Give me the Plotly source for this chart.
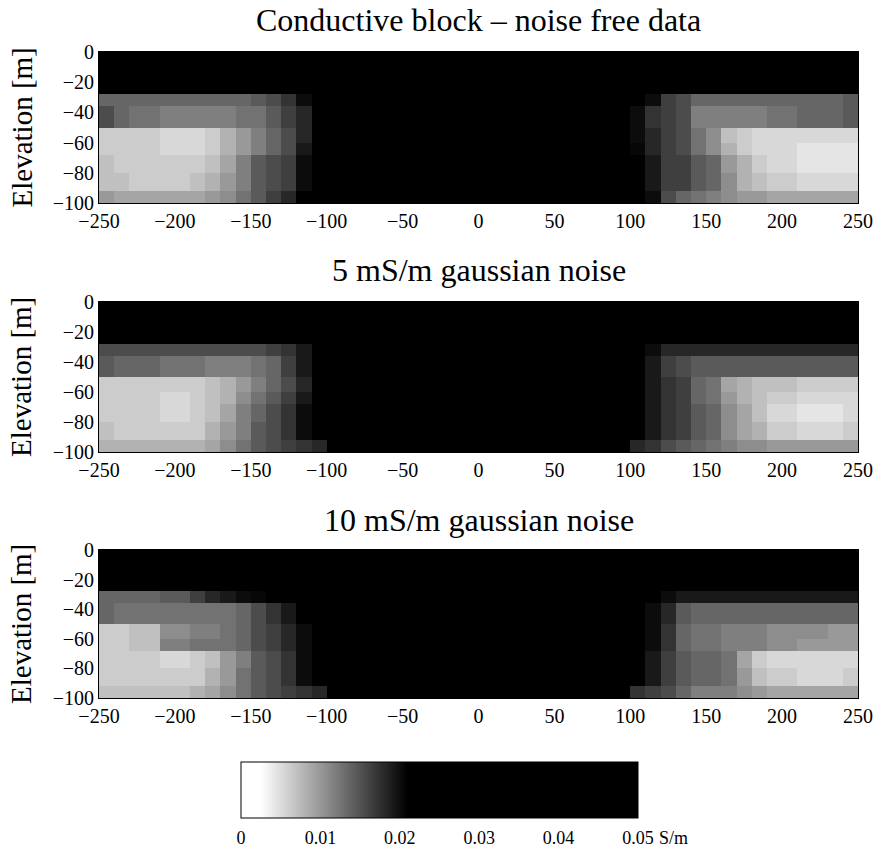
import plotly.graph_objects as go

# ---------------- data (conductivity in mS/m) ----------------
X_EDGES_LEFT = [-250, -240, -230, -210, -190, -180, -170, -160, -150, -140, -130, -120, -110, -100]
X_EDGES_RIGHT = [100, 110, 120, 130, 140, 150, 160, 170, 180, 190, 210, 230, 240, 250]
Y_EDGES = [0, -28, -36, -50, -60, -68, -80, -92, -100]   # top to bottom
BLOCK = 50.0  # conductive block / top layer, mS/m

TITLES = ["Conductive block \u2013 noise free data",
          "5 mS/m gaussian noise",
          "10 mS/m gaussian noise"]

X_TICKS = [-250, -200, -150, -100, -50, 0, 50, 100, 150, 200, 250]
Y_TICKS = [0, -20, -40, -60, -80, -100]
CB_TICKS = [0, 0.01, 0.02, 0.03, 0.04, 0.05]
CB_LABELS = ["0", "0.01", "0.02", "0.03", "0.04", "0.05"]

# rows: layers below the top layer (28-36, 36-50, 50-60, 60-68, 68-80, 80-92, 92-100 m)
P1_LEFT = [
    [13.6, 13.6, 13.6, 13.6, 13.6, 13.6, 13.6, 13.6, 14.5, 15.5, 17.3, 20.1, 30],
    [15.5, 13.6, 12.7, 11.8, 11.8, 11.8, 11.8, 12.7, 12.7, 14.5, 16.4, 18.2, 30],
    [6.2, 6.2, 6.2, 5.3, 5.3, 6.2, 8.1, 9.9, 11.8, 13.6, 15.5, 18.2, 30],
    [6.2, 6.2, 6.2, 5.3, 5.3, 6.2, 8.1, 9.9, 11.8, 13.6, 15.5, 19.2, 30],
    [7.1, 6.2, 6.2, 6.2, 6.2, 7.1, 9.0, 11.8, 14.5, 15.5, 16.4, 20.1, 30],
    [7.1, 7.1, 6.2, 6.2, 7.1, 8.1, 9.9, 11.8, 14.5, 15.5, 16.4, 20.1, 30],
    [9.9, 9.0, 9.0, 9.0, 9.0, 9.9, 10.8, 12.7, 14.5, 16.4, 18.2, 30, 30],
]
P1_RIGHT = [
    [30, 20.1, 16.4, 15.5, 13.6, 13.6, 13.6, 13.6, 13.6, 13.6, 13.6, 13.6, 14.5],
    [20.1, 17.3, 16.4, 15.5, 11.8, 11.8, 11.8, 11.8, 11.8, 12.7, 13.6, 13.6, 14.5],
    [20.1, 18.2, 16.4, 15.5, 12.7, 10.8, 7.1, 6.2, 5.3, 5.3, 5.3, 5.3, 5.3],
    [20.5, 18.2, 16.4, 15.5, 12.7, 10.8, 8.1, 6.2, 5.3, 5.3, 4.4, 4.4, 4.4],
    [30, 19.2, 16.4, 16.4, 14.5, 13.6, 9.9, 8.1, 6.2, 5.3, 4.4, 4.4, 4.4],
    [30, 19.2, 16.4, 16.4, 14.5, 13.6, 10.8, 8.1, 7.1, 6.2, 5.3, 5.3, 5.3],
    [30, 20.1, 15.5, 13.6, 12.7, 11.8, 10.8, 9.9, 9.9, 9.0, 9.0, 9.0, 9.0],
]
P2_LEFT = [
    [15.5, 15.5, 15.5, 15.5, 15.5, 15.5, 15.5, 15.5, 15.5, 16.4, 17.3, 19.2, 30],
    [14.5, 13.6, 13.6, 12.7, 12.7, 11.8, 11.8, 11.8, 12.7, 13.6, 16.4, 19.2, 30],
    [6.2, 6.2, 6.2, 6.2, 6.2, 7.1, 8.1, 9.9, 11.8, 13.6, 15.5, 18.2, 30],
    [6.2, 6.2, 6.2, 5.3, 6.2, 7.1, 8.1, 10.8, 12.7, 14.5, 16.4, 19.2, 30],
    [6.2, 6.2, 6.2, 5.3, 6.2, 7.1, 9.0, 11.8, 13.6, 15.5, 17.3, 20.1, 30],
    [7.1, 6.2, 6.2, 6.2, 6.2, 8.1, 9.9, 11.8, 14.5, 15.5, 17.3, 20.1, 30],
    [8.1, 8.1, 8.1, 8.1, 8.1, 9.0, 10.8, 12.7, 14.5, 15.5, 16.4, 17.3, 18.2],
]
P2_RIGHT = [
    [30, 20.1, 18.2, 18.2, 18.2, 18.2, 18.2, 18.2, 18.2, 18.2, 18.2, 18.2, 18.2],
    [30, 19.2, 16.4, 15.5, 14.5, 14.5, 14.5, 14.5, 14.5, 14.5, 14.5, 14.5, 14.5],
    [30, 19.2, 17.3, 16.4, 13.6, 12.7, 9.0, 8.1, 7.1, 7.1, 6.2, 6.2, 6.2],
    [30, 19.2, 17.3, 16.4, 13.6, 12.7, 9.9, 8.1, 7.1, 6.2, 5.3, 5.3, 5.3],
    [30, 19.2, 17.3, 16.4, 14.5, 13.6, 10.8, 9.0, 7.1, 5.3, 4.4, 4.4, 5.3],
    [30, 19.2, 17.3, 16.4, 14.5, 13.6, 10.8, 9.0, 8.1, 6.2, 5.3, 5.3, 6.2],
    [18.2, 17.3, 15.5, 14.5, 13.6, 12.7, 11.8, 10.8, 10.8, 9.9, 9.9, 9.9, 9.9],
]
P3_LEFT = [
    [13.6, 13.6, 13.6, 14.5, 16.4, 18.2, 19.2, 20.1, 20.5, 30, 30, 30, 30],
    [13.6, 12.7, 12.7, 12.7, 12.7, 12.7, 12.7, 13.6, 15.5, 17.3, 19.2, 30, 30],
    [6.2, 6.2, 7.1, 10.8, 11.8, 11.8, 12.7, 13.6, 15.5, 16.4, 18.2, 20.1, 30],
    [6.2, 6.2, 7.1, 11.8, 12.7, 12.7, 12.7, 13.6, 15.5, 16.4, 18.2, 20.1, 30],
    [6.2, 6.2, 6.2, 5.3, 6.2, 7.1, 9.9, 11.8, 14.5, 15.5, 17.3, 20.1, 30],
    [6.2, 6.2, 6.2, 6.2, 6.2, 8.1, 9.9, 12.7, 14.5, 15.5, 17.3, 20.1, 30],
    [7.1, 7.1, 7.1, 7.1, 8.1, 9.0, 10.8, 12.7, 14.5, 15.5, 16.4, 17.3, 18.2],
]
P3_RIGHT = [
    [30, 30, 20.1, 19.2, 19.2, 19.2, 19.2, 19.2, 19.2, 19.2, 19.2, 19.2, 19.2],
    [30, 20.1, 18.2, 14.5, 13.6, 13.6, 13.6, 13.6, 13.6, 13.6, 13.6, 13.6, 13.6],
    [30, 20.1, 17.3, 13.6, 12.7, 12.7, 11.8, 11.8, 11.8, 10.8, 10.8, 9.9, 9.9],
    [30, 20.1, 17.3, 13.6, 12.7, 12.7, 11.8, 11.8, 11.8, 10.8, 9.9, 9.9, 9.9],
    [30, 19.2, 16.4, 14.5, 13.6, 13.6, 12.7, 9.0, 6.2, 5.3, 5.3, 5.3, 5.3],
    [30, 19.2, 16.4, 14.5, 13.6, 13.6, 12.7, 9.9, 7.1, 6.2, 5.3, 5.3, 6.2],
    [17.3, 16.4, 15.5, 13.6, 11.8, 11.8, 11.8, 10.8, 9.9, 9.0, 9.0, 9.0, 9.0],
]
PANELS = [(P1_LEFT, P1_RIGHT), (P2_LEFT, P2_RIGHT), (P3_LEFT, P3_RIGHT)]

# ---------------- figure ----------------
W, H = 877, 850
FONT = "Liberation Serif, Times New Roman, serif"

def px_x(p):
    return p / W

def px_y(p):
    return 1 - p / H

x_edges = X_EDGES_LEFT + X_EDGES_RIGHT
n_side = len(X_EDGES_LEFT) - 1

def build_grid(left, right):
    rows = [[BLOCK] * (2 * n_side + 1)]
    for l, r in zip(left, right):
        rows.append(l + [BLOCK] + r)
    # to S/m and flip to ascending elevation
    return [[v / 1000.0 for v in row] for row in rows[::-1]]

y_edges_asc = Y_EDGES[::-1]

# panel pixel boxes (top, bottom)
boxes = [(52, 203), (302, 452), (550, 698)]
title_y = [20, 270, 520]
PL, PR = 99, 858

fig = go.Figure()
annotations = []
for i, ((left, right), (top, bot)) in enumerate(zip(PANELS, boxes)):
    sfx = "" if i == 0 else str(i + 1)
    fig.add_trace(go.Heatmap(
        x=x_edges, y=y_edges_asc, z=build_grid(left, right),
        coloraxis="coloraxis", xaxis="x" + sfx, yaxis="y" + sfx,
        hoverinfo="skip"))
    axcommon = dict(showline=True, mirror=True, linecolor="black", linewidth=1,
                    showgrid=False, zeroline=False, ticks="",
                    tickfont=dict(family=FONT, size=20, color="black"))
    fig.layout["xaxis" + sfx] = dict(domain=[px_x(PL), px_x(PR)], range=[-250, 250],
                                     tickvals=X_TICKS, anchor="y" + sfx, **axcommon)
    fig.layout["yaxis" + sfx] = dict(domain=[px_y(bot), px_y(top)], range=[-100, 0],
                                     tickvals=Y_TICKS, anchor="x" + sfx, **axcommon)
    annotations.append(dict(text=TITLES[i], x=0.5 * (px_x(PL) + px_x(PR)), y=px_y(title_y[i]),
                            xref="paper", yref="paper", xanchor="center", yanchor="middle",
                            showarrow=False, font=dict(family=FONT, size=32, color="black")))
    annotations.append(dict(text="Elevation [m]", x=px_x(21), y=px_y((top + bot) / 2),
                            xref="paper", yref="paper", xanchor="center", yanchor="middle",
                            textangle=-90, showarrow=False,
                            font=dict(family=FONT, size=29, color="black")))

annotations.append(dict(text="S/m", x=px_x(657), y=px_y(838), xref="paper", yref="paper",
                        xanchor="left", yanchor="middle", showarrow=False,
                        font=dict(family=FONT, size=18, color="black")))

CB_L, CB_R, CB_T, CB_B = 241, 638, 762, 818
fig.update_layout(
    width=W, height=H, margin=dict(l=0, r=0, t=0, b=0, autoexpand=False),
    paper_bgcolor="white", plot_bgcolor="white",
    font=dict(family=FONT, color="black"),
    annotations=annotations,
    coloraxis=dict(
        cmin=0, cmax=0.05,
        colorscale=[[0, "#ffffff"], [0.05, "#ffffff"], [0.42, "#000000"], [1, "#000000"]],
        colorbar=dict(orientation="h", x=px_x((CB_L + CB_R) / 2), xanchor="center",
                      y=px_y(CB_T), yanchor="top",
                      len=(CB_R - CB_L) / W, lenmode="fraction",
                      thickness=CB_B - CB_T, thicknessmode="pixels",
                      xpad=0, ypad=0, outlinecolor="black", outlinewidth=1,
                      tickvals=CB_TICKS, ticktext=CB_LABELS,
                      ticks="outside", ticklen=4, tickcolor="white",
                      tickfont=dict(family=FONT, size=18, color="black")),
    ),
    showlegend=False,
)

fig.write_html("out.html")
